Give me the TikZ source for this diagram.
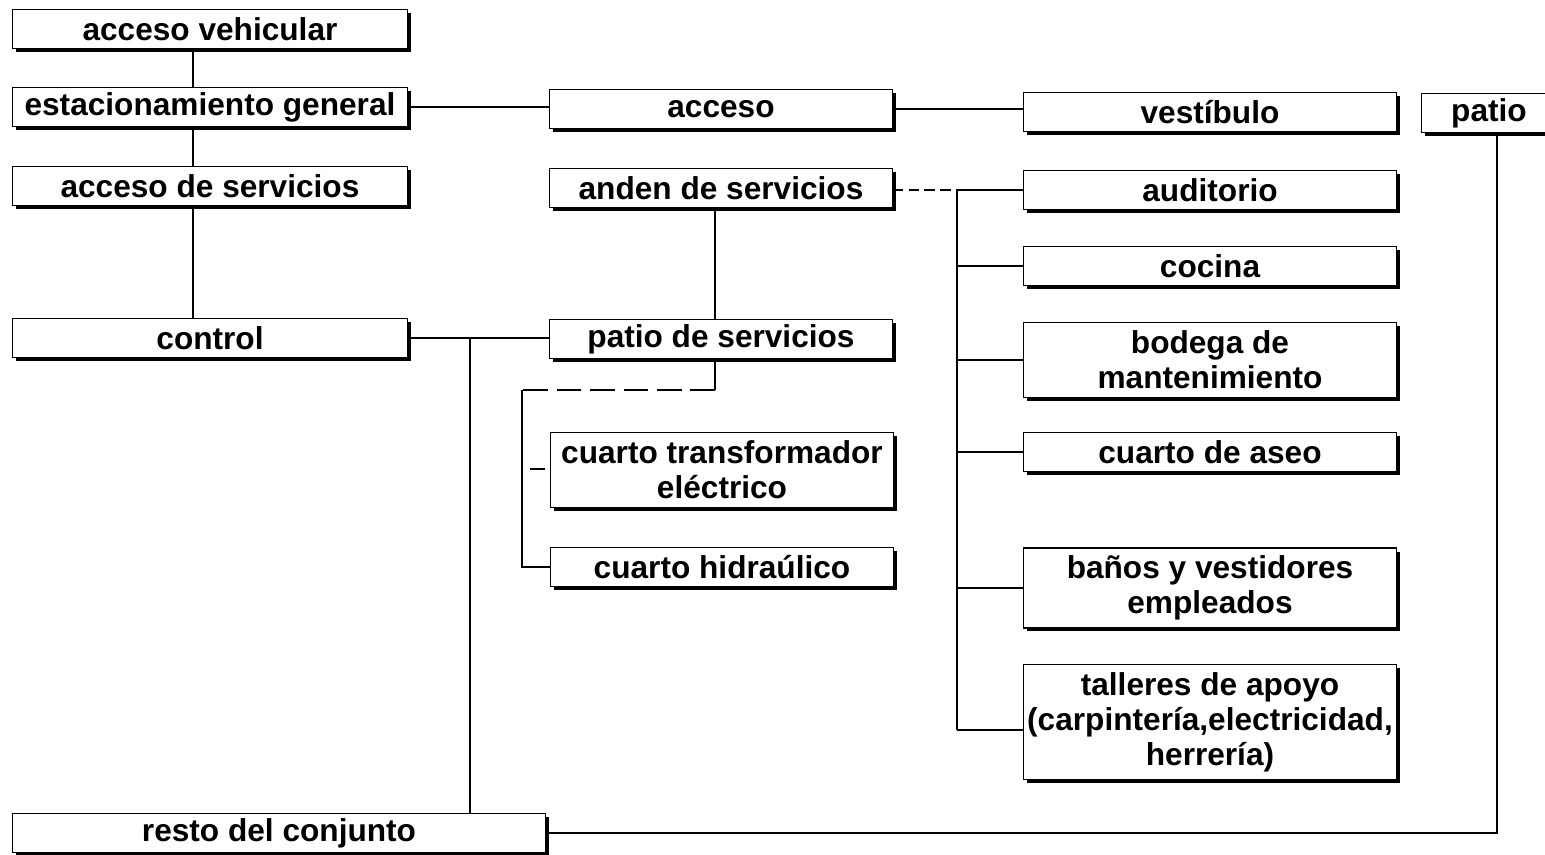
\documentclass[tikz,border=0pt]{standalone}
\usepackage{fontspec}
\setmainfont{Liberation Sans}
\usetikzlibrary{
		calc,
		shadows,
		positioning
	}
\tikzset{
		box/.style={draw=black, line width=0.7pt, fill=white, font=\fontsize{18}{20}\selectfont\bfseries,
			align=center, inner sep=0pt, minimum height=0.78cm,
			drop shadow={opacity=1, fill=black, shadow xshift=0.07cm, shadow yshift=-0.07cm}},
		leftbox/.style={box, minimum width=7.9cm},
		midbox/.style={box, minimum width=6.85cm},
		rightbox/.style={box, minimum width=7.45cm},
		link/.style={line width=0.8pt}
	}
\begin{document}
\begin{tikzpicture}[x=0.02cm, y=-0.02cm]
              % page size
              \useasboundingbox (0,0) rectangle (1545,855);

              % the boxes on the left
              \node[leftbox] (vehic) at (210,29) {acceso vehicular};
              \node[leftbox] (estac) at (210,107) {estacionamiento general};
              \node[leftbox] (accserv) at (210,186) {acceso de servicios};
              \node[leftbox] (control) at (210,338) {control};
              \node[box, minimum width=10.65cm] (resto) at (279,833) {resto del conjunto};

              % the boxes in the middle
              \node[midbox] (acceso) at (721,109) {acceso};
              \node[midbox] (anden) at (721,188) {anden de servicios};
              \node[midbox] (patserv) at (721,339) {patio de servicios};
              \node[midbox, minimum height=1.5cm] (transf) at (722,470) {cuarto transformador\\eléctrico};
              \node[midbox] (hidra) at (722,567) {cuarto hidraúlico};

              % the boxes on the right
              \node[rightbox] (vest) at (1210,112) {vestíbulo};
              \node[rightbox] (audit) at (1210,190) {auditorio};
              \node[rightbox] (cocina) at (1210,266) {cocina};
              \node[rightbox, minimum height=1.5cm] (bodega) at (1210,360) {bodega de\\mantenimiento};
              \node[rightbox] (aseo) at (1210,452) {cuarto de aseo};
              \node[rightbox, minimum height=1.6cm] (banos) at (1210,588) {baños y vestidores\\empleados};
              \node[rightbox, minimum height=2.3cm] (talleres) at (1210,722) {talleres de apoyo\\(carpintería,electricidad,\\herrería)};
              \node[box, minimum width=2.7cm] (patio) at (1489,113) {patio};

              % the vertical chain on the left
              \draw[link] (vehic.south -| 193,0) -- (estac.north -| 193,0);
              \draw[link] (estac.south -| 193,0) -- (accserv.north -| 193,0);
              \draw[link] (accserv.south -| 193,0) -- (control.north -| 193,0);

              % the horizontal links
              \draw[link] (estac.east) -- (estac.east -| acceso.west);
              \draw[link] (acceso.east) -- (acceso.east -| vest.west);
              \draw[link] (control.east) -- (control.east -| patserv.west);
              \draw[link] (anden.south -| 715,0) -- (patserv.north -| 715,0);

              % control down to resto del conjunto
              \coordinate (c1) at (470,338);
              \draw[link] (c1) -- (c1 |- resto.north);

              % resto del conjunto round to patio
              \draw[link] (resto.east) -- (1497,833) -- (patio.south -| 1497,0);

              % anden de servicios to the rooms on the right
              \coordinate (r0) at (957,190);
              \draw[link, dashed, dash pattern=on 6pt off 3pt] (anden.east |- r0) -- (r0);
              \draw[link] (r0) -- (audit.west);
              \draw[link] (r0) -- (957,730);
              \draw[link] (957,266) -- (cocina.west);
              \draw[link] (957,360) -- (bodega.west);
              \draw[link] (957,452) -- (aseo.west);
              \draw[link] (957,588) -- (banos.west);
              \draw[link] (957,730) -- (talleres.west |- 0,730);

              % patio de servicios to the small rooms
              \coordinate (p1) at (715,390);
              \coordinate (p2) at (522,390);
              \draw[link] (patserv.south -| p1) -- (p1);
              \draw[link, dashed, dash pattern=on 14pt off 5pt] (p1) -- (p2);
              \draw[link] (p2) -- (522,567) -- (hidra.west);
              \coordinate (t1) at (530,469);
              \coordinate (t2) at (545,469);
              \draw[link] (t1) -- (t2);

          \end{tikzpicture}
\end{document}
